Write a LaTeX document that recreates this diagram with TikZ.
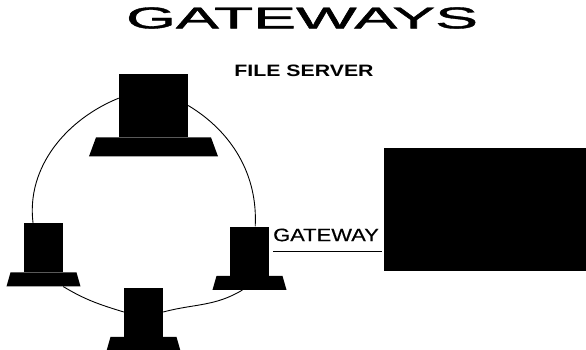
\documentclass[tikz,border=0pt]{standalone}
\usepackage{fontspec}
\setmainfont{Liberation Sans}
\newfontface\heavyface[FakeBold=1.2]{Liberation Sans}
\newfontface\midface[FakeBold=0.4]{Liberation Sans}
\usetikzlibrary{positioning,shapes.geometric}
\tikzset{
  tower/.style={draw=none, fill=black, inner sep=0pt, minimum width=39pt, minimum height=49pt},
  stand/.style={draw=none, fill=black, inner sep=0pt, trapezium, trapezium stretches=true, trapezium left angle=86.5, trapezium right angle=86.5, minimum width=74pt, minimum height=14pt, execute at begin node={\rule{1pt}{1pt}}},
  ring/.style={line width=0.9pt, draw=black},
  label/.style={inner sep=0pt, font=\midface\fontsize{18}{18}\selectfont}
}
\begin{document}
\begin{tikzpicture}[x=1pt,y=1pt]
\useasboundingbox (0,0) rectangle (586,349);
\node[label, font=\heavyface\fontsize{30}{30}\selectfont, xscale=2.14] (title) at (302,331) {GATEWAYS};
\node[label, font=\bfseries\fontsize{16.5}{16.5}\selectfont, xscale=1.29] (fslabel) at (304,278) {FILE SERVER};

\node[tower, minimum width=69pt, minimum height=63pt] (srv) at (153.5,243.5) {};
\node[stand, minimum width=129pt, minimum height=19pt, below=0pt of srv] (srvbase) {};
\node[tower] (lpc) at (43.5,101.5) {};
\node[stand, below=0pt of lpc] (lpcbase) {};
\node[tower] (bpc) at (143.5,37) {};
\node[stand, below=0pt of bpc] (bpcbase) {};
\node[tower] (rpc) at (249.5,98) {};
\node[stand, below=0pt of rpc] (rpcbase) {};

\node[fill=black, inner sep=0pt, minimum width=202pt, minimum height=123pt] (lan) at (485,139.5) {};
\node[label, xscale=1.22] (gwlabel) at (326,114) {GATEWAY};

\draw[ring] (srv.168) to[out=202,in=97,looseness=0.95] (lpc.113);
\draw[ring] (srv.east) to[out=-31,in=87,looseness=0.95] (rpc.77);
\draw[ring] (lpcbase.-20) to[out=-31,in=163] (bpc.west);
\draw[ring] (bpc.east) to[out=15,in=211] (rpcbase.south west);
\draw[ring, shorten <=4pt, shorten >=2pt] (rpc.east) -- (rpc.east -| lan.west);
\end{tikzpicture}
\end{document}
